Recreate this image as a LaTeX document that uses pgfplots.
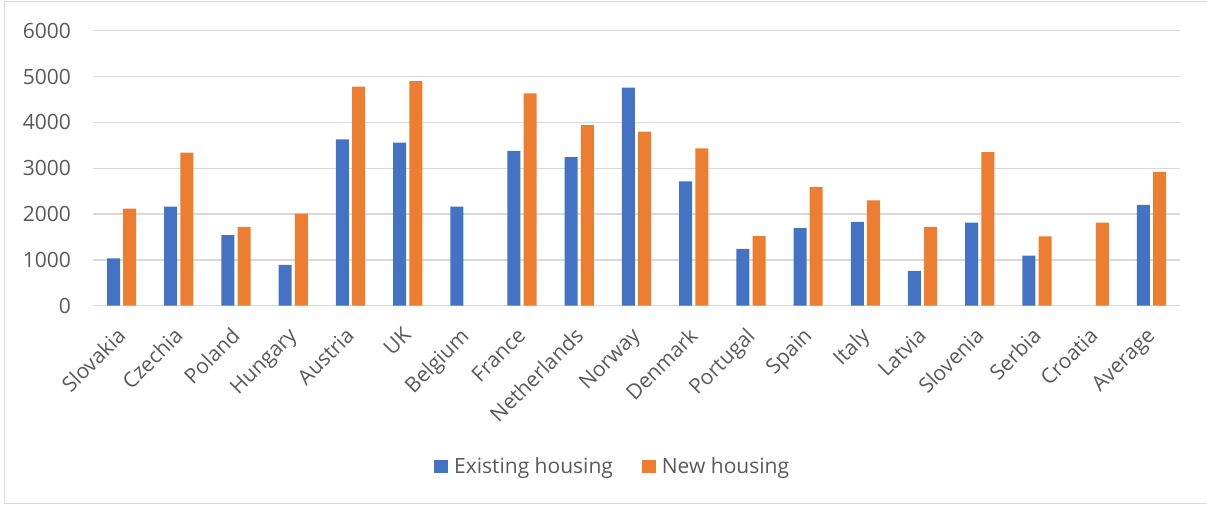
\documentclass[border=0pt]{standalone}
\usepackage{pgfplots}
\pgfplotsset{compat=1.18}
\usepackage{fontspec}
\setmainfont{Open Sans}
\definecolor{exist}{HTML}{4472C4}
\definecolor{newh}{HTML}{ED7D31}
\definecolor{gridc}{HTML}{D9D9D9}
\definecolor{txt}{HTML}{595959}
\newcommand{\lblfont}{\fontsize{21bp}{24bp}\selectfont}
\begin{document}
\begin{tikzpicture}[x=1bp,y=1bp]
\useasboundingbox (0,0) rectangle (1207,505);
\draw[gridc, line width=1.2bp] (1210,503.7) -- (4.7,503.7) -- (4.7,1.7) -- (1210,1.7);
\begin{axis}[
  at={(93bp,199.3bp)}, anchor=south west,
  scale only axis, width=1087bp, height=275bp,
  ybar=3.2bp, bar width=13bp,
  xmin=-0.5, xmax=18.5, ymin=0, ymax=6000,
  ytick={0,1000,...,6000},
  xtick={0,...,18},
  xticklabels={Slovakia,Czechia,Poland,Hungary,Austria,UK,Belgium,France,Netherlands,Norway,Denmark,Portugal,Spain,Italy,Latvia,Slovenia,Serbia,Croatia,Average},
  x tick label style={xshift=-6bp, yshift=-16bp, rotate=45, anchor=north east, inner sep=0pt, font=\lblfont, text=txt},
  y tick label style={anchor=east, inner sep=0pt, xshift=-22bp, font=\lblfont, text=txt},
  /pgf/number format/.cd, 1000 sep={}, assume math mode=true, /pgfplots/.cd,
  ymajorgrids, grid style={gridc, line width=1.3bp},
  axis line style={draw=none}, tick style={draw=none},
  legend columns=2,
  legend style={at={(0.478,-0.5847)}, anchor=center, draw=none, font=\lblfont, text=txt,
    /tikz/every even column/.append style={column sep=27bp}},
  legend image code/.code={\fill[#1] (0bp,-6.5bp) rectangle (14bp,6.5bp); \path (18bp,0bp);},
]
\addplot[fill=exist, draw=none] coordinates {
  (0,1030)(1,2160)(2,1540)(3,890)(4,3630)(5,3560)(6,2160)(7,3380)(8,3240)
  (9,4760)(10,2710)(11,1240)(12,1690)(13,1830)(14,760)(15,1810)(16,1090)(18,2200)};
\addlegendentry{Existing housing}
\addplot[fill=newh, draw=none] coordinates {
  (0,2120)(1,3340)(2,1720)(3,2010)(4,4780)(5,4900)(7,4630)(8,3940)
  (9,3800)(10,3430)(11,1520)(12,2590)(13,2300)(14,1720)(15,3350)(16,1510)(17,1810)(18,2920)};
\addlegendentry{New housing}
\end{axis}
\end{tikzpicture}
\end{document}
